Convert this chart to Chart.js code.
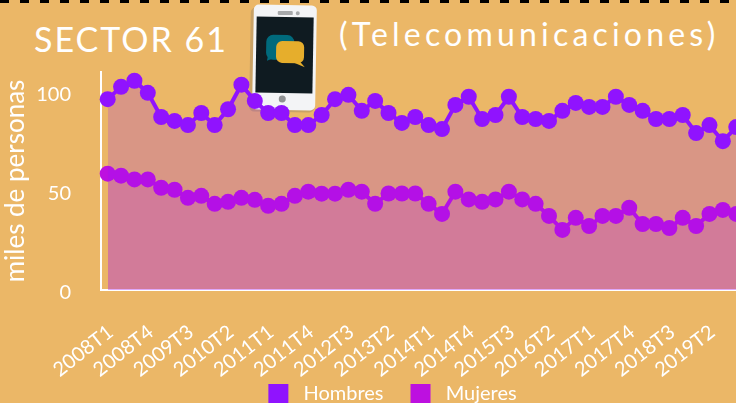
<!DOCTYPE html>
<html>
<head>
<meta charset="utf-8">
<script src="https://cdn.jsdelivr.net/npm/chart.js@4"></script>
<style>
  html, body { margin: 0; padding: 0; background: #ebb767; overflow: hidden; width: 736px; height: 403px; }
  #wrap { position: relative; width: 736px; height: 403px; overflow: hidden; }
  #dashes { position: absolute; left: 0; top: 0; width: 736px; height: 3px;
    background: repeating-linear-gradient(90deg, #000 0 9px, transparent 9px 20px); }
  .title { position: absolute; color: #fff; font-family: "Lato", sans-serif; white-space: nowrap; }
  #phone { position: absolute; left: 240px; top: 0; }
  #cv { position: absolute; left: 0; top: 0; }
</style>
</head>
<body>
<div id="wrap">
  <svg id="phone" width="90" height="115" viewBox="0 0 90 115">
    <g transform="rotate(1 45 57)">
      <rect x="10" y="8" width="65" height="104" rx="5" fill="#c9a266"/>
      <rect x="13" y="5" width="63" height="105" rx="5" fill="#f3f4f6"/>
      <rect x="16" y="17" width="57" height="76" fill="#0f1b21"/>
      <rect x="37" y="11" width="15" height="4" rx="1" fill="#a7a9ab"/>
      <circle cx="57" cy="13" r="2" fill="#a7a9ab"/>
      <circle cx="43" cy="99" r="3.5" fill="#8f9193"/>
      <path d="M28 56 L27 61 L37 57 Z" fill="#006a7c"/>
      <rect x="26" y="35" width="28" height="25" rx="7" fill="#006a7c"/>
      <path d="M57 58 L65 67 L53 62 Z" fill="#e6ae2c"/>
      <rect x="36" y="41" width="28" height="22" rx="6" fill="#e6ae2c"/>
    </g>
  </svg>
  <div id="dashes"></div>
  <div class="title" id="t1" style="left:34px;top:18px;font-size:34px;letter-spacing:2px;">SECTOR 61</div>
  <div class="title" id="t2" style="left:339px;top:14px;font-size:32px;letter-spacing:4.2px;">(Telecomunicaciones)</div>
  <canvas id="cv"></canvas>
</div>
<script>
var categories = [
  '2008T1','2008T2','2008T3','2008T4','2009T1','2009T2','2009T3','2009T4',
  '2010T1','2010T2','2010T3','2010T4','2011T1','2011T2','2011T3','2011T4',
  '2012T1','2012T2','2012T3','2012T4','2013T1','2013T2','2013T3','2013T4',
  '2014T1','2014T2','2014T3','2014T4','2015T1','2015T2','2015T3','2015T4',
  '2016T1','2016T2','2016T3','2016T4','2017T1','2017T2','2017T3','2017T4',
  '2018T1','2018T2','2018T3','2018T4','2019T1','2019T2','2019T3','2019T4'
];
var hombres = [
  96.3,102.5,105.6,99.5,87.3,85.3,83.2,89.3,83.2,91.2,103.6,95.4,
  89.3,89.3,83.2,83.2,88.3,96.3,98.5,90.4,95.4,89.3,84.3,87.3,
  83.2,81.2,93.4,97.5,86.3,88.3,97.5,87.3,86.3,85.3,90.4,94.4,
  92.4,92.4,97.5,93.4,90.4,86.3,86.3,88.3,79.2,83.2,75.1,82.2
];
var mujeres = [
  58.7,57.7,55.8,55.8,51.6,50.6,46.5,47.5,43.5,44.5,46.5,45.5,
  42.5,43.5,47.5,49.6,48.6,48.6,50.6,49.6,43.5,48.7,48.7,48.7,
  43.5,38.4,49.6,45.7,44.5,45.7,49.6,45.7,43.5,37.4,30.3,36.4,
  32.3,37.4,37.4,41.5,33.3,33.3,31.3,36.4,32.3,38.4,40.4,38.4
];
var yTicks = [0, 50, 100];

var white = '#ffffff';

// el lienzo es mayor que la ventana: el original sale recortado a la derecha y abajo
var canvas = document.getElementById('cv');
canvas.width = 773;
canvas.height = 447;
canvas.style.width = '773px';
canvas.style.height = '447px';

// la leyenda no va centrada en el original
var moveLegend = {
  id: 'moveLegend',
  afterLayout: function (chart) {
    chart.legend.left += 6;
    chart.legend.right += 6;
    chart.legend.top = 357;
  }
};

var myChart = new Chart(canvas.getContext('2d'), {
  type: 'line',
  data: {
    labels: categories,
    datasets: [{
      label: 'Hombres',
      data: hombres,
      borderColor: '#9013fe',
      backgroundColor: '#9013fe',
      fill: { target: 'origin', above: 'rgba(144,19,254,0.2)' },
      borderWidth: 4,
      pointRadius: 8,
      pointHoverRadius: 8,
      pointBorderWidth: 0,
      tension: 0
    }, {
      label: 'Mujeres',
      data: mujeres,
      borderColor: '#bd10e0',
      backgroundColor: '#bd10e0',
      fill: { target: 'origin', above: 'rgba(189,16,224,0.2)' },
      borderWidth: 4,
      pointRadius: 8,
      pointHoverRadius: 8,
      pointBorderWidth: 0,
      tension: 0
    }]
  },
  plugins: [moveLegend],
  options: {
    responsive: false,
    animation: false,
    clip: false,
    layout: { autoPadding: false, padding: { top: 72, left: 0, right: 0, bottom: 0 } },
    plugins: {
      title: { display: false },
      tooltip: { enabled: false },
      legend: {
        position: 'bottom',
        labels: {
          color: white,
          font: { family: 'Lato', size: 20 },
          boxWidth: 20,
          boxHeight: 20,
          padding: 27,
          generateLabels: function (chart) {
            var items = Chart.defaults.plugins.legend.labels.generateLabels(chart);
            items.forEach(function (it) {
              it.lineWidth = 0;
              it.text = '\u00a0' + it.text;
            });
            return items;
          }
        }
      }
    },
    scales: {
      x: {
        offset: true,
        grid: { display: false },
        border: { color: white, width: 2 },
        afterFit: function (scale) { scale.height = 100; },
        ticks: {
          color: white,
          font: { family: 'Lato', size: 20 },
          autoSkip: false,
          minRotation: 38,
          maxRotation: 38,
          padding: 22,
          labelOffset: 3,
          callback: function (v, i) { return i % 3 === 0 ? categories[i] : ''; }
        }
      },
      y: {
        min: 0,
        max: 110,
        afterFit: function (scale) { scale.width = 101; },
        afterBuildTicks: function (scale) {
          scale.ticks = yTicks.map(function (v) { return { value: v }; });
        },
        grid: { display: false },
        border: { color: white, width: 2 },
        title: {
          display: true,
          text: 'miles de personas',
          color: white,
          font: { family: 'Lato', size: 26 },
          padding: 0
        },
        ticks: {
          color: white,
          font: { family: 'Lato', size: 20, lineHeight: 0.3 },
          padding: 22,
          // linea vacia arriba para bajar la etiqueta 3px, como en el original
          callback: function (v) { return ['', String(v)]; }
        }
      }
    }
  }
});
</script>
</body>
</html>
